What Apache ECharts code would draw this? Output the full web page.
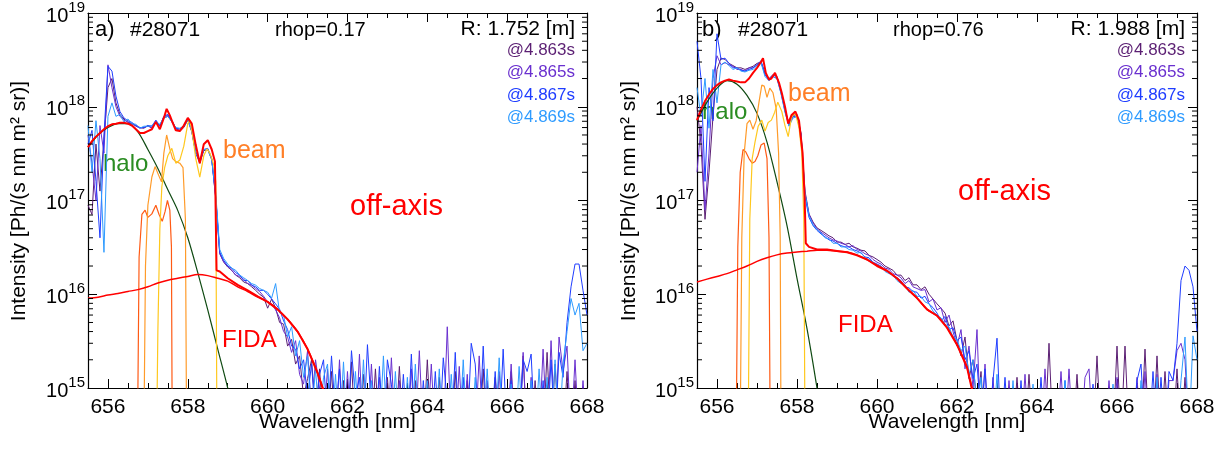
<!DOCTYPE html>
<html><head><meta charset="utf-8">
<script src="https://cdn.jsdelivr.net/npm/echarts@6/dist/echarts.min.js"></script>
<style>html,body{margin:0;padding:0;background:#fff}#c{width:1218px;height:450px}</style>
</head><body><div id="c"></div>
<script>
// ---------------- DATA ----------------
// spectrometer channel grid (nm): start and step
const WL_START = 655.5, WL_STEP = 0.1;   // 126 channels, 655.5 ... 668.0

// measured spectra, panel a (rhop=0.17)
const a_4863 = [8.9e16,7.1e16,4.0e17,1.26e17,4.5e17,1.6e18,2.0e18,1.1e18,8.3e17,7.4e17,6.8e17,
 6.6e17,6.3e17,6.0e17,5.9e17,6.3e17,5.9e17,6.9e17,6.3e17,7.6e17,7.9e17,
 7.1e17,5.9e17,5.5e17,6.0e17,7.2e17,5.4e17,3.2e17,2.5e17,3.4e17,3.5e17,
 2.75e17,1.05e17,2.7e16,2.2e16,1.95e16,1.8e16,1.6e16,1.5e16,1.35e16,1.3e16,
 1.2e16,1.1e16,1.0e16,9.3e15,7.1e15,8.9e15,7.1e15,5.0e15,4.8e15,2.8e15,
 3.3e15,1.8e15,2.2e15,8e14,1.26e15,2.0e15,5e14,1.6e15,4e14,4e14,
 1.5e15,3e14,3e14,1.2e15,3e14,1.9e15,3e14,3e14,1.4e15,3e14,
 3e14,1.6e15,3e14,3e14,1.3e15,3e14,3e14,1.7e15,3e14,3e14,
 3e14,1.2e15,3e14,3e14,2.0e15,3e14,3e14,1.3e15,3e14,3e14,
 3e14,1.5e15,3e14,3e14,1.2e15,3e14,3e14,3e14,1.6e15,3e14,
 3e14,1.3e15,3e14,3e14,3e14,1.5e15,3e14,3e14,2.2e15,3e14,
 3e14,1.2e15,3e14,3e14,2.4e15,3e14,1.8e15,3e14,
 3e14,1.5e15,3e14,1.2e15,3e14,3e14,3e14];
const a_4865 = [5.0e17,2.5e17,1.0e17,6.3e17,3.2e17,2.8e18,1.6e18,1.0e18,7.9e17,7.2e17,6.9e17,
 6.6e17,6.2e17,5.9e17,6.0e17,6.2e17,6.0e17,7.1e17,6.2e17,7.8e17,8.1e17,
 6.9e17,5.8e17,5.6e17,6.2e17,7.4e17,5.5e17,3.2e17,2.6e17,3.5e17,3.5e17,
 2.75e17,1.07e17,2.75e16,2.2e16,2.0e16,1.8e16,1.6e16,1.55e16,1.45e16,1.3e16,
 1.25e16,1.15e16,1.07e16,9.5e15,8.3e15,7.9e15,6.8e15,5.6e15,4.0e15,3.5e15,
 2.4e15,3.2e15,1.4e15,1.1e15,2.5e15,6e14,2.0e15,1.0e15,4e14,1.6e15,
 3e14,3e14,2.0e15,3e14,1.5e15,3e14,3e14,2.3e15,3e14,3e14,
 1.8e15,3e14,1.3e15,3e14,3e14,2.1e15,3e14,1.2e15,3e14,3e14,
 1.6e15,3e14,2.5e15,3e14,3e14,1.8e15,3e14,3e14,3e14,4.5e15,
 3e14,3e14,1.7e15,3e14,1.4e15,3e14,3e14,2.2e15,3e14,1.2e15,
 3e14,3e14,1.5e15,3e14,3e14,1.8e15,3e14,3e14,2.4e15,3e14,
 1.3e15,3e14,3e14,2.6e15,3e14,3.2e15,3e14,3.5e15,
 1.5e15,2.8e15,3e14,2.0e15,3e14,1.2e15,3e14];
const a_4867 = [4.0e17,5.6e17,1.6e17,4.0e16,5.0e17,2.7e18,2.4e18,1.3e18,8.9e17,7.6e17,7.1e17,
 6.8e17,6.3e17,6.0e17,6.0e17,6.3e17,6.2e17,7.2e17,6.3e17,7.9e17,8.3e17,
 7.1e17,5.9e17,5.8e17,6.3e17,7.6e17,5.6e17,3.3e17,2.6e17,3.5e17,3.6e17,
 2.8e17,1.1e17,2.8e16,2.3e16,2.0e16,1.9e16,1.7e16,1.6e16,1.4e16,1.4e16,
 1.25e16,1.2e16,1.1e16,1.1e16,1.0e16,8.9e15,7.9e15,6.9e15,5.2e15,4.2e15,
 2.8e15,2.6e15,1.6e15,2.0e15,8e14,1.8e15,5e14,1.4e15,2.0e15,4e14,
 2.2e15,5e14,1.6e15,3e14,3e14,2.5e15,8e14,1.3e15,3e14,2.9e15,
 6e14,3e14,1.7e15,3e14,2.0e15,1.1e15,3e14,3e14,1.4e15,3e14,
 2.3e15,3e14,3e14,1.2e15,3e14,3e14,1.5e15,3e14,2.1e15,7e14,
 3e14,2.4e15,3e14,1.3e15,3e14,3.0e15,1.8e15,3e14,2.8e15,3e14,
 3e14,1.5e15,3e14,2.6e15,3e14,1.2e15,3e14,3e14,2.0e15,1.5e15,
 2.3e15,3e14,3e14,1.2e15,3e14,2.0e15,3e14,2.4e15,
 1.3e15,5e15,1.2e16,2.1e16,2.1e16,1.1e16,6e15];
const a_4869 = [6.3e17,2.0e17,7.1e17,2.8e17,2.8e16,7.9e17,1.1e18,7.9e17,8.3e17,6.9e17,7.4e17,
 6.6e17,6.5e17,5.9e17,6.2e17,6.2e17,6.3e17,6.9e17,6.5e17,7.6e17,7.9e17,
 6.9e17,6.0e17,5.9e17,6.2e17,7.2e17,5.5e17,3.2e17,2.75e17,3.5e17,3.5e17,
 2.7e17,1.2e17,3.0e16,2.4e16,2.1e16,1.9e16,1.8e16,1.6e16,1.5e16,1.4e16,
 1.3e16,1.25e16,1.15e16,1.1e16,1.05e16,9.1e15,1.3e16,6.3e15,6.0e15,3.5e15,
 4.5e15,2.2e15,3.2e15,1.3e15,2.2e15,5e14,1.6e15,4e14,1.3e15,1.8e15,
 3e14,1.4e15,3e14,1.9e15,3e14,3e14,1.5e15,3e14,2.0e15,3e14,
 1.2e15,3e14,3e14,2.2e15,3e14,3e14,1.5e15,3e14,3e14,1.3e15,
 3e14,1.8e15,3e14,3e14,1.2e15,3e14,3e14,1.6e15,3e14,3e14,
 1.4e15,3e14,3e14,2.0e15,3e14,3e14,1.3e15,3e14,3e14,1.6e15,
 3e14,3e14,2.1e15,3e14,3e14,1.1e15,3e14,1.7e15,3e14,3e14,
 1.2e15,3e14,1.6e15,3e14,1.3e15,3e14,2.0e15,3e14,
 1.8e15,4e15,9e15,6e15,8e15,2.5e15,3e15];

// measured spectra, panel b (rhop=0.76)
const b_4863 = [1.0e18,4.0e17,6.3e16,2.0e17,7.9e17,2.5e18,3.3e18,3.2e18,2.9e18,2.75e18,2.6e18,
 2.6e18,2.5e18,2.6e18,2.7e18,2.9e18,3.0e18,2.3e18,2.0e18,2.2e18,2.1e18,
 1.48e18,9.3e17,6.6e17,8.1e17,8.3e17,5.25e17,1.26e17,7.2e16,5.9e16,5.1e16,
 4.8e16,4.5e16,4.2e16,4.0e16,3.6e16,3.6e16,3.4e16,3.5e16,3.2e16,3.1e16,
 2.95e16,2.9e16,2.6e16,2.5e16,2.35e16,2.2e16,2.0e16,1.9e16,1.8e16,1.6e16,
 1.6e16,1.4e16,1.5e16,1.26e16,1.26e16,1.12e16,1.2e16,1.0e16,8.9e15,7.9e15,
 7.1e15,6.3e15,4.6e15,5.2e15,3.2e15,2.2e15,3.5e15,1.26e15,2.0e15,6e14,
 1.5e15,3e14,3e14,3e14,3e14,3e14,3e14,3e14,3e14,1.3e15,
 3e14,3e14,1.4e15,3e14,3e14,3e14,3e14,3.0e15,3e14,3e14,
 3e14,3e14,3e14,3e14,1.4e15,3e14,3e14,3e14,3e14,2.2e15,
 3e14,3e14,3e14,3e14,2.8e15,3e14,2.8e15,3e14,3e14,3e14,
 3e14,2.6e15,3e14,3e14,2.2e15,3e14,1.5e15,3e14,
 3e14,1.6e15,3e14,1.3e15,3e14,3e14,3e14];
const b_4865 = [2.0e17,6.3e17,7.9e16,3.2e17,2.0e18,3.5e18,2.8e18,2.95e18,2.8e18,2.7e18,2.5e18,
 2.5e18,2.4e18,2.6e18,2.6e18,2.8e18,3.0e18,2.2e18,1.95e18,2.2e18,2.1e18,
 1.45e18,9.1e17,6.5e17,7.9e17,8.1e17,5.1e17,1.17e17,7.1e16,5.75e16,5.0e16,
 4.6e16,4.3e16,4.0e16,3.8e16,3.7e16,3.5e16,3.4e16,3.2e16,3.3e16,3.0e16,
 2.9e16,2.7e16,2.6e16,2.35e16,2.2e16,2.1e16,1.9e16,1.85e16,1.66e16,1.6e16,
 1.5e16,1.3e16,1.4e16,1.2e16,1.15e16,1.1e16,1.12e16,8.3e15,8.9e15,6.8e15,
 7.2e15,5.0e15,6.0e15,4.0e15,2.8e15,4.2e15,1.6e15,2.8e15,1.0e15,4.2e15,
 3e14,1.8e15,3e14,1.3e15,3e14,3e14,3e14,1.2e15,3e14,3e14,
 3e14,1.4e15,3e14,3e14,3e14,3e14,1.6e15,3e14,3e14,3e14,
 1.5e15,3e14,1.6e15,3e14,3e14,3e14,1.3e15,1.6e15,3e14,3e14,
 3e14,3e14,1.2e15,3e14,1.3e15,3e14,3e14,3e14,3e14,1.3e15,
 3e14,1.5e15,3e14,3e14,1.4e15,3e14,3e14,1.2e15,
 1.2e15,2.5e15,3e15,2.0e15,3e14,3e14,3e14];
const b_4867 = [5.0e18,2.0e18,1.6e17,1.6e18,7.1e17,6.0e18,3.2e18,3.3e18,2.9e18,2.6e18,2.6e18,
 2.45e18,2.4e18,2.5e18,2.6e18,2.8e18,3.1e18,2.2e18,1.9e18,2.1e18,2.0e18,
 1.4e18,8.9e17,6.3e17,7.9e17,7.9e17,5.0e17,1.1e17,6.6e16,5.4e16,4.8e16,
 4.4e16,4.1e16,3.8e16,3.7e16,3.5e16,3.3e16,3.2e16,3.2e16,3.0e16,2.9e16,
 2.75e16,2.5e16,2.45e16,2.2e16,2.1e16,2.0e16,1.8e16,1.75e16,1.55e16,1.5e16,
 1.4e16,1.2e16,1.17e16,1.07e16,1.05e16,9.1e15,9.5e15,7.9e15,7.2e15,6.3e15,
 5.2e15,5.8e15,4.2e15,4.4e15,3.2e15,3.5e15,2.0e15,2.5e15,1.26e15,1.8e15,
 5e14,1.6e15,3e14,1.2e15,3.4e15,3e14,1.3e15,3e14,3e14,3e14,
 1.2e15,3e14,3e14,3e14,3e14,1.3e15,3e14,3e14,3e14,3e14,
 3e14,1.2e15,3e14,3e14,3e14,3e14,3e14,3e14,1.1e15,3e14,
 3e14,3e14,3e14,3e14,3e14,3e14,3e14,3e14,3e14,1.2e15,
 1.8e15,3e14,3e14,1.5e15,3e14,1.3e15,3e14,1.5e15,
 1.2e15,3e15,1.4e16,2.0e16,1.8e16,1.2e16,4e15];
const b_4869 = [1.6e18,7.9e17,2.0e18,5.9e17,2.5e18,1.1e18,2.8e18,3.0e18,2.75e18,2.5e18,2.6e18,
 2.4e18,2.35e18,2.45e18,2.5e18,2.75e18,2.95e18,2.1e18,1.9e18,2.1e18,2.0e18,
 1.38e18,8.7e17,6.2e17,7.6e17,7.8e17,4.9e17,1.2e17,6.9e16,5.5e16,4.9e16,
 4.5e16,4.0e16,3.9e16,3.5e16,3.5e16,3.2e16,3.2e16,3.0e16,2.95e16,2.75e16,
 2.8e16,2.45e16,2.35e16,2.2e16,2.0e16,2.0e16,1.75e16,1.66e16,1.6e16,1.4e16,
 1.3e16,1.26e16,1.05e16,1.1e16,9.5e15,9.5e15,8.3e15,7.9e15,6.6e15,6.0e15,
 5.6e15,4.8e15,4.5e15,3.5e15,3.3e15,2.5e15,2.8e15,1.4e15,2.0e15,6e14,
 1.3e15,3e14,3e14,3e14,1.4e15,3e14,3e14,3e14,1.2e15,3e14,
 3e14,3e14,3e14,1.1e15,3e14,3e14,3e14,3e14,3e14,3e14,
 3e14,1.2e15,3e14,3e14,3e14,3e14,3e14,3e14,3e14,3e14,
 3e14,3e14,3e14,1.1e15,3e14,3e14,3e14,3e14,3e14,3e14,
 1.2e15,3e14,3e14,3e14,1.3e15,3e14,3e14,3e14,
 3e14,3e14,1.2e15,3.5e15,3e14,3.6e15,2.0e15];

// model components on a 0.25 nm grid
const wl25 = [655.5,655.75,656,656.25,656.5,656.75,657,657.25,657.5,657.75,658,658.25,658.5,658.75,659,659.25,
 659.5,659.75,660,660.25,660.5,660.75,661,661.25,661.5,661.75,662,662.25,662.5,662.75];
const halo_a = [3.7e17,5.0e17,6.0e17,6.6e17,6.6e17,5.4e17,3.5e17,2.2e17,1.3e17,7.8e16,4.0e16,1.7e16,6.8e15,2.6e15,1.0e15,3.5e14];
const halo_b = [7.1e17,1.12e18,1.58e18,1.9e18,1.74e18,1.32e18,8.5e17,4.2e17,1.58e17,5.4e16,1.48e16,4.3e15,1.0e15,2e14];
const fida_a = [9.1e15,9.3e15,9.8e15,1.02e16,1.07e16,1.12e16,1.2e16,1.32e16,1.41e16,1.48e16,1.55e16,1.62e16,1.58e16,
 1.48e16,1.38e16,1.2e16,1.07e16,9.3e15,8.3e15,6.9e15,5.4e15,4.0e15,2.6e15,1.45e15,7e14,3.2e14];
const fida_b = [1.35e16,1.45e16,1.55e16,1.66e16,1.82e16,2.0e16,2.24e16,2.45e16,2.63e16,2.75e16,2.82e16,2.88e16,2.95e16,
 2.95e16,2.88e16,2.82e16,2.63e16,2.34e16,2.04e16,1.78e16,1.48e16,1.15e16,9.1e15,6.9e15,5.9e15,4.4e15,2.9e15,1.66e15,5.6e14,2e14];

// total fit
const total_a_wl = [655.5,655.6,655.7,655.8,655.9,656.0,656.1,656.2,656.3,656.4,656.5,656.6,656.7,656.8,656.9,657.0,657.1,657.2,657.3,657.4,
 657.47,657.55,657.6,657.7,657.8,657.9,658.0,658.05,658.1,658.2,658.3,658.4,658.5,658.6,658.68,658.72,658.8,659.0,659.25,659.5,
 659.75,660.0,660.25,660.5,660.75,661.0,661.25,661.5,661.75];
const total_a = [3.7e17,4.3e17,4.8e17,5.25e17,5.75e17,6.2e17,6.5e17,6.6e17,6.75e17,6.75e17,6.6e17,6.3e17,5.75e17,5.25e17,5.25e17,5.5e17,5.75e17,6.9e17,5.75e17,7.6e17,
 9.5e17,8.1e17,7.1e17,5.6e17,5.5e17,6.3e17,7.6e17,7.9e17,6.6e17,3.9e17,2.5e17,3.98e17,4.4e17,3.5e17,2.6e17,1.8e16,1.75e16,1.48e16,1.26e16,1.1e16,
 9.5e15,8.3e15,6.9e15,5.4e15,4.0e15,2.6e15,1.45e15,7e14,3.2e14];
const total_b_wl = [655.5,655.6,655.7,655.8,655.9,656.0,656.1,656.2,656.3,656.4,656.5,656.6,656.7,656.8,656.9,657.0,657.1,
 657.15,657.22,657.3,657.36,657.45,657.55,657.62,657.7,657.78,657.86,657.96,658.05,658.14,658.19,658.22,658.3,658.5,658.75,
 659.0,659.25,659.5,659.75,660.0,660.25,660.5,660.75,661.0,661.25,661.5,661.75,662.0,662.25,662.5];
const total_b = [7.2e17,9.3e17,1.15e18,1.35e18,1.55e18,1.7e18,1.82e18,1.9e18,1.95e18,1.9e18,1.86e18,1.82e18,1.82e18,2.0e18,2.3e18,2.6e18,3.0e18,
 3.3e18,2.3e18,1.95e18,2.0e18,2.3e18,1.8e18,1.4e18,1.0e18,6.6e17,8.1e17,8.9e17,7.1e17,3.2e17,1.1e17,3.5e16,3.2e16,3.0e16,3.0e16,
 2.9e16,2.8e16,2.6e16,2.35e16,2.0e16,1.78e16,1.48e16,1.15e16,9.1e15,6.9e15,5.9e15,4.4e15,2.9e15,1.66e15,5.6e14];

// beam emission components (E/3, E/2, E)
const beamA_E3_wl = [656.74,656.78,656.85,656.93,657.0,657.1,657.2,657.28,657.36,657.43,657.49,657.55,657.59,657.61];
const beamA_E3 = [3.2e14,2.5e16,7.1e16,7.9e16,6.6e16,7.2e16,8.9e16,7.1e16,6.0e16,7.6e16,1.0e17,7.9e16,3.2e16,3.2e14];
const beamA_E2_wl = [656.9,656.94,657.0,657.1,657.18,657.26,657.34,657.4,657.47,657.55,657.62,657.7,657.8,657.88,657.94,657.97];
const beamA_E2 = [3.2e14,2.0e16,8.9e16,1.78e17,2.3e17,1.9e17,1.58e17,3.2e17,5.0e17,3.55e17,2.8e17,2.6e17,2.5e17,2.24e17,6.3e16,3.2e14];
const beamA_E1_wl = [657.22,657.25,657.3,657.35,657.42,657.5,657.6,657.7,657.8,657.9,658.0,658.05,658.12,658.2,658.3,658.4,658.48,658.56,658.65,658.7,658.73];
const beamA_E1 = [3.2e14,4.0e15,5.0e16,1.41e17,2.24e17,3.0e17,3.6e17,2.5e17,2.7e17,3.8e17,6.6e17,7.2e17,5.0e17,2.8e17,1.78e17,3.0e17,3.55e17,3.16e17,2.4e17,1.58e17,3.2e14];
const beamB_E3_wl = [656.48,656.52,656.58,656.65,656.72,656.8,656.88,656.95,657.02,657.1,657.18,657.25,657.3,657.33];
const beamB_E3 = [3.2e14,3.2e16,2.0e17,3.5e17,3.3e17,2.8e17,2.5e17,2.6e17,3.0e17,3.9e17,4.1e17,2.8e17,4.0e16,3.2e14];
const beamB_E2_wl = [656.58,656.62,656.68,656.75,656.82,656.9,656.98,657.05,657.12,657.18,657.25,657.32,657.4,657.48,657.54,657.58,657.6];
const beamB_E2 = [3.2e14,4.0e16,3.2e17,6.6e17,7.2e17,5.75e17,7.1e17,1.12e18,1.7e18,1.66e18,1.26e18,1.58e18,1.41e18,9.5e17,3.2e17,4.0e16,3.2e14];
const beamB_E1_wl = [656.78,656.82,656.88,656.95,657.03,657.12,657.2,657.28,657.36,657.44,657.52,657.57,657.62,657.7,657.78,657.86,657.93,657.98,658.05,658.12,658.17,658.2];
const beamB_E1 = [3.2e14,6.3e16,2.8e17,4.2e17,6.2e17,7.2e17,5.5e17,6.8e17,7.2e17,8.7e17,1.12e18,1.15e18,8.9e17,6.3e17,4.8e17,7.6e17,8.5e17,7.9e17,6.0e17,3.2e17,6.3e16,3.2e14];

// labels
const timeLabels = ['@4.863s','@4.865s','@4.867s','@4.869s'];
const panelTags = ['a)','b)'];
const shotLabel = '#28071';
const rhopLabels = ['rhop=0.17','rhop=0.76'];
const radiusLabels = ['R: 1.752 [m]','R: 1.988 [m]'];
const minorMantissas = [2,3,4,5,6,7,8,9];
const decades = [1e15,1e16,1e17,1e18];

// ---------------- STYLE / LAYOUT ----------------
const FONT = '"Liberation Sans", Arial, Helvetica, sans-serif';
const C_T = ['#5b1f73','#6a30cf','#1f3dff','#2e9bff'];
const C_RED = '#ff0000', C_HALO = '#0f4a12';
const C_BEAM = ['#ff5a14','#ff9b2a','#ffc81e'];
const grids = [{left:88, top:13, width:499, height:375},{left:697, top:13, width:500, height:375}];

function onGrid(vals){ return vals.map((v,i)=>[Math.round((WL_START+i*WL_STEP)*100)/100, v]); }
function zip(xs, ys){ return ys.map((v,i)=>[xs[i], v]); }
function line(data, color, width, p, z, smooth){
  return {type:'line', data, xAxisIndex:p, yAxisIndex:p, showSymbol:false, symbol:'none', clip:true, silent:true,
    z, smooth: smooth||false, lineStyle:{color, width}, itemStyle:{color}, emphasis:{disabled:true}};
}
const minorVals = [];
decades.forEach(d => minorMantissas.forEach(m => minorVals.push(m*d)));

function xAx(gi, pos){ return {type:'value', gridIndex:gi, position:pos, min:655.5, max:668, splitNumber:6,
  axisLine:{show:true, onZero:false, lineStyle:{color:'#000', width:1.2}},
  axisTick:{show:true, inside:true, length:9, lineStyle:{color:'#000', width:1}},
  minorTick:{show:true, splitNumber:4, length:5, lineStyle:{color:'#000', width:1}},
  splitLine:{show:false}, minorSplitLine:{show:false},
  axisLabel:{show: pos==='bottom', margin:9, fontSize:21, fontFamily:FONT, color:'#000', showMinLabel:false,
    formatter: v => String(Math.round(v))}}; }
function yAx(gi, pos){ return {type:'log', logBase:10, gridIndex:gi, position:pos, min:1e15, max:1e19, splitNumber:4,
  axisLine:{show:true, onZero:false, lineStyle:{color:'#000', width:1.2}},
  axisTick:{show:true, inside:true, length:9, lineStyle:{color:'#000', width:1}},
  splitLine:{show:false},
  axisLabel:{show: pos==='left', margin:3, formatter: v => '{b|10}{s|' + Math.round(Math.log10(v)) + '}',
    rich:{ b:{fontSize:20, fontFamily:FONT, color:'#000', lineHeight:26, verticalAlign:'bottom'},
           s:{fontSize:15, fontFamily:FONT, color:'#000', lineHeight:12, verticalAlign:'top'} }}}; }

const series = [];
const panelsData = [
  {meas:[a_4863,a_4865,a_4867,a_4869], halo:halo_a, fida:fida_a, total:[total_a_wl,total_a],
   beams:[[beamA_E3_wl,beamA_E3],[beamA_E2_wl,beamA_E2],[beamA_E1_wl,beamA_E1]]},
  {meas:[b_4863,b_4865,b_4867,b_4869], halo:halo_b, fida:fida_b, total:[total_b_wl,total_b],
   beams:[[beamB_E3_wl,beamB_E3],[beamB_E2_wl,beamB_E2],[beamB_E1_wl,beamB_E1]]}
];
panelsData.forEach((pd,p)=>{
  pd.meas.forEach((m,k)=> series.push(line(onGrid(m), C_T[k], 1, p, 2)));
  series.push(line(zip(wl25, pd.halo), C_HALO, 1.2, p, 3, 0.3));
  pd.beams.forEach((b,k)=> series.push(line(zip(b[0], b[1]), C_BEAM[k], 1.2, p, 3)));
  series.push(line(zip(wl25, pd.fida), C_RED, 1.5, p, 4, 0.3));
  series.push(line(zip(pd.total[0], pd.total[1]), C_RED, 2, p, 5));
  series.push({type:'custom', xAxisIndex:p, yAxisIndex:p, silent:true, clip:false, z:10,
    data: minorVals.map(v=>[655.5, v]),
    renderItem:(params, api)=>{
      const pt = api.coord([api.value(0), api.value(1)]);
      const cs = params.coordSys;
      return {type:'group', children:[
        {type:'line', shape:{x1:cs.x, y1:pt[1], x2:cs.x+5, y2:pt[1]}, style:{stroke:'#000', lineWidth:1}},
        {type:'line', shape:{x1:cs.x+cs.width, y1:pt[1], x2:cs.x+cs.width-5, y2:pt[1]}, style:{stroke:'#000', lineWidth:1}}
      ]};
    }});
});

function txt(x, y, text, size, color, align, rot){
  const e = {type:'text', x, y, silent:true, style:{text, font: size+'px '+FONT, fill:color, align:align||'left', verticalAlign:'middle'}};
  if (rot) e.rotation = rot;
  return e;
}
const graphics = [];
const L = [ {tag:95, shot:130, rhop:275, right:575, halo:[103,164], beam:[223,151], off:[350,207], fida:[222,340], yname:19.5, xname:337.5},
            {tag:702, shot:738, rhop:893, right:1185, halo:[702,112], beam:[788,94], off:[958,192], fida:[838,325], yname:629, xname:947} ];
L.forEach((l,p)=>{
  graphics.push(txt(l.tag, 30, panelTags[p], 22, '#000'));
  graphics.push(txt(l.shot, 30, shotLabel, 21, '#000'));
  graphics.push(txt(l.rhop, 30, rhopLabels[p], 20, '#000'));
  graphics.push(txt(l.right, 29, radiusLabels[p], 21, '#000', 'right'));
  [50, 72.5, 95, 117.5].forEach((y,k)=> graphics.push(txt(l.right, y, timeLabels[k], 17, C_T[k], 'right')));
  graphics.push(txt(l.halo[0], l.halo[1], 'halo', 24, '#2a8c22'));
  graphics.push(txt(l.beam[0], l.beam[1], 'beam', 25, '#ff7f27'));
  graphics.push(txt(l.off[0], l.off[1], 'off-axis', 29, C_RED));
  graphics.push(txt(l.fida[0], l.fida[1], 'FIDA', 24, C_RED));
  graphics.push(txt(l.yname, 201, 'Intensity [Ph/(s nm m\u00b2 sr)]', 21, '#000', 'center', Math.PI/2));
  graphics.push(txt(l.xname, 422, 'Wavelength [nm]', 21, '#000', 'center'));
});

const chart = echarts.init(document.getElementById('c'), null, {renderer:'canvas'});
chart.setOption({
  animation:false,
  backgroundColor:'#fff',
  textStyle:{fontFamily:FONT},
  grid: grids.map(g=>Object.assign({containLabel:false, outerBoundsMode:'none'}, g)),
  xAxis:[xAx(0,'bottom'), xAx(1,'bottom'), xAx(0,'top'), xAx(1,'top')],
  yAxis:[yAx(0,'left'), yAx(1,'left'), yAx(0,'right'), yAx(1,'right')],
  graphic: graphics,
  series
});
</script></body></html>
